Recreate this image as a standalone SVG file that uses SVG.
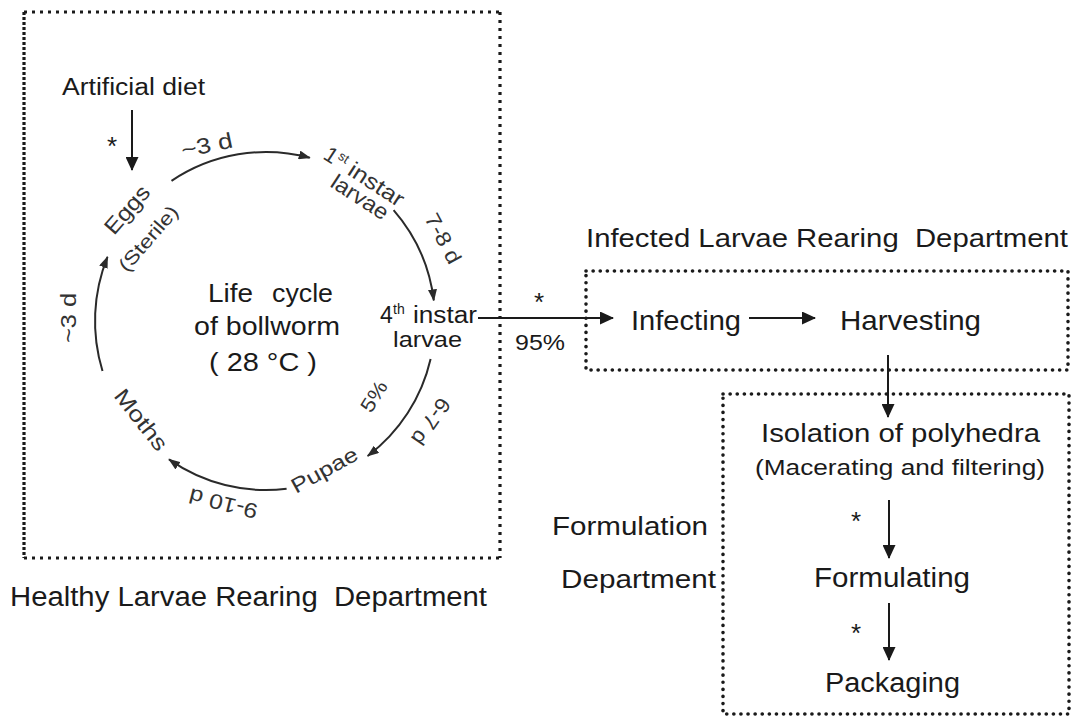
<svg xmlns="http://www.w3.org/2000/svg" width="1074" height="717" viewBox="0 0 1074 717">
<style>
  text { font-family: "Liberation Sans", Arial, sans-serif; fill: #1a1a1a; }
  .cyc { fill: #333; }
  .pre { white-space: pre; }
  .box1 { fill: none; stroke: #1a1a1a; stroke-width: 3.2; stroke-dasharray: 3 5; }
  .box1l { fill: none; stroke: #1a1a1a; stroke-width: 3.2; stroke-dasharray: 3 2; }
  .boxd { fill: none; stroke: #1a1a1a; stroke-width: 3.6; stroke-linecap: round; stroke-dasharray: 0.1 7; }
  .arc { fill: none; stroke: #2a2a2a; stroke-width: 2; marker-end: url(#ahs); }
  .arr { fill: none; stroke: #1a1a1a; stroke-width: 2; marker-end: url(#ahb); }
  .ast { font-size: 26px; text-anchor: middle; }
</style>
<defs>
  <marker id="ahs" viewBox="0 0 12 9" refX="11" refY="4.5" markerWidth="12" markerHeight="9" markerUnits="userSpaceOnUse" orient="auto">
    <path d="M0,0 L12,4.5 L0,9 z" fill="#2a2a2a"/>
  </marker>
  <marker id="ahb" viewBox="0 0 14 13" refX="13" refY="6.5" markerWidth="14" markerHeight="13" markerUnits="userSpaceOnUse" orient="auto">
    <path d="M0,0 L14,6.5 L0,13 z" fill="#1a1a1a"/>
  </marker>
</defs>

<g id="healthy-department">
  <line class="box1" x1="24" y1="12" x2="500" y2="12"/>
  <line class="box1" x1="500" y1="12" x2="500" y2="558"/>
  <line class="box1" x1="24" y1="558" x2="500" y2="558"/>
  <line class="box1l" x1="24" y1="12" x2="24" y2="558"/>
  <text x="10" y="606" font-size="27" textLength="477" lengthAdjust="spacingAndGlyphs" class="pre">Healthy Larvae Rearing  Department</text>
</g>

<g id="infected-department">
  <rect class="boxd" x="586" y="271" width="482" height="99"/>
  <text x="586" y="247" font-size="26" textLength="482" lengthAdjust="spacingAndGlyphs" class="pre">Infected Larvae Rearing  Department</text>
</g>

<g id="formulation-department">
  <rect class="boxd" x="723" y="394" width="346" height="320"/>
  <text x="552" y="535" font-size="26" textLength="156" lengthAdjust="spacingAndGlyphs">Formulation</text>
  <text x="561" y="588" font-size="26" textLength="155" lengthAdjust="spacingAndGlyphs">Department</text>
</g>

<g id="artificial-diet">
  <text x="62" y="95" font-size="23" textLength="143" lengthAdjust="spacingAndGlyphs">Artificial diet</text>
</g>

<g id="life-cycle-title">
  <text x="208" y="302" font-size="25" textLength="45" lengthAdjust="spacingAndGlyphs">Life</text>
  <text x="272" y="302" font-size="25" textLength="61" lengthAdjust="spacingAndGlyphs">cycle</text>
  <text x="194" y="335" font-size="25" textLength="146" lengthAdjust="spacingAndGlyphs">of bollworm</text>
  <text x="209" y="371" font-size="25" textLength="108" lengthAdjust="spacingAndGlyphs">( 28 °C )</text>
</g>

<g id="eggs">
  <text class="cyc" transform="translate(114,236) rotate(-49)" font-size="22" textLength="57" lengthAdjust="spacingAndGlyphs">Eggs</text>
  <text class="cyc" transform="translate(127,273) rotate(-49)" font-size="19" textLength="80" lengthAdjust="spacingAndGlyphs">(Sterile)</text>
</g>

<g id="first-instar" transform="translate(322,158) rotate(33)">
  <text class="cyc" x="0" y="0" font-size="22">1</text>
  <text class="cyc" x="13" y="-8" font-size="13">st</text>
  <text class="cyc" x="29" y="0" font-size="22" textLength="62" lengthAdjust="spacingAndGlyphs">instar</text>
</g>
<g id="first-instar-larvae">
  <text class="cyc" transform="translate(329,186) rotate(33)" font-size="22" textLength="64" lengthAdjust="spacingAndGlyphs">larvae</text>
</g>

<g id="fourth-instar">
  <text x="380" y="323" font-size="23">4</text>
  <text x="393" y="314" font-size="14">th</text>
  <text x="413" y="323" font-size="23" textLength="64" lengthAdjust="spacingAndGlyphs">instar</text>
  <text x="393" y="347" font-size="22" textLength="69" lengthAdjust="spacingAndGlyphs">larvae</text>
</g>

<g id="pupae">
  <text class="cyc" transform="translate(296,494) rotate(-29)" font-size="21" textLength="73" lengthAdjust="spacingAndGlyphs">Pupae</text>
</g>

<g id="moths">
  <text class="cyc" transform="translate(113,396) rotate(52)" font-size="22" textLength="72" lengthAdjust="spacingAndGlyphs">Moths</text>
</g>

<g id="infecting">
  <text x="631" y="330" font-size="28" textLength="110" lengthAdjust="spacingAndGlyphs">Infecting</text>
</g>

<g id="harvesting">
  <text x="840" y="330" font-size="28" textLength="141" lengthAdjust="spacingAndGlyphs">Harvesting</text>
</g>

<g id="isolation">
  <text x="761" y="442" font-size="26" textLength="279" lengthAdjust="spacingAndGlyphs">Isolation of polyhedra</text>
  <text x="755" y="475" font-size="22" textLength="290" lengthAdjust="spacingAndGlyphs">(Macerating and filtering)</text>
</g>

<g id="formulating">
  <text x="814" y="587" font-size="27" textLength="156" lengthAdjust="spacingAndGlyphs">Formulating</text>
</g>

<g id="packaging">
  <text x="825" y="692" font-size="27" textLength="135" lengthAdjust="spacingAndGlyphs">Packaging</text>
</g>

<g id="connectors">
  <path class="arc" d="M171.5,180.9 A169,169 0 0 1 309.8,157.8"/>
  <path class="arc" d="M393.6,210.1 A169,169 0 0 1 433.8,300.4"/>
  <path class="arc" d="M430.6,359 A169,169 0 0 1 367.7,456"/>
  <path class="arc" d="M286.6,488.8 A169,169 0 0 1 169,459.4"/>
  <path class="arc" d="M102.5,371 A171,171 0 0 1 107.5,256.9"/>
  <line class="arr" x1="132" y1="110" x2="132" y2="170"/>
  <line class="arr" x1="478" y1="318" x2="613" y2="318"/>
  <line class="arr" x1="749" y1="318" x2="815" y2="318"/>
  <line class="arr" x1="888" y1="355" x2="888" y2="417"/>
  <line class="arr" x1="889" y1="500" x2="889" y2="558"/>
  <line class="arr" x1="889" y1="603" x2="889" y2="660"/>
  <text class="cyc" transform="translate(183,158) rotate(-12)" font-size="22" textLength="52" lengthAdjust="spacingAndGlyphs">~3 d</text>
  <text class="cyc" transform="translate(424,218) rotate(62)" font-size="21" textLength="54" lengthAdjust="spacingAndGlyphs">7-8 d</text>
  <text class="cyc" transform="translate(371,414) rotate(-58)" font-size="20" textLength="33" lengthAdjust="spacingAndGlyphs">5%</text>
  <text class="cyc" transform="translate(440,396) rotate(125)" font-size="21" textLength="52" lengthAdjust="spacingAndGlyphs">6-7 d</text>
  <text class="cyc" transform="translate(259,505) rotate(194)" font-size="21" textLength="70" lengthAdjust="spacingAndGlyphs">9-10 d</text>
  <text class="cyc" transform="translate(76,343) rotate(-90)" font-size="22" textLength="50" lengthAdjust="spacingAndGlyphs">~3 d</text>
  <text x="515" y="350" font-size="22" textLength="50" lengthAdjust="spacingAndGlyphs">95%</text>
  <text class="ast" x="112" y="155">*</text>
  <text class="ast" x="539" y="311">*</text>
  <text class="ast" x="856" y="530">*</text>
  <text class="ast" x="856" y="642">*</text>
</g>
</svg>
